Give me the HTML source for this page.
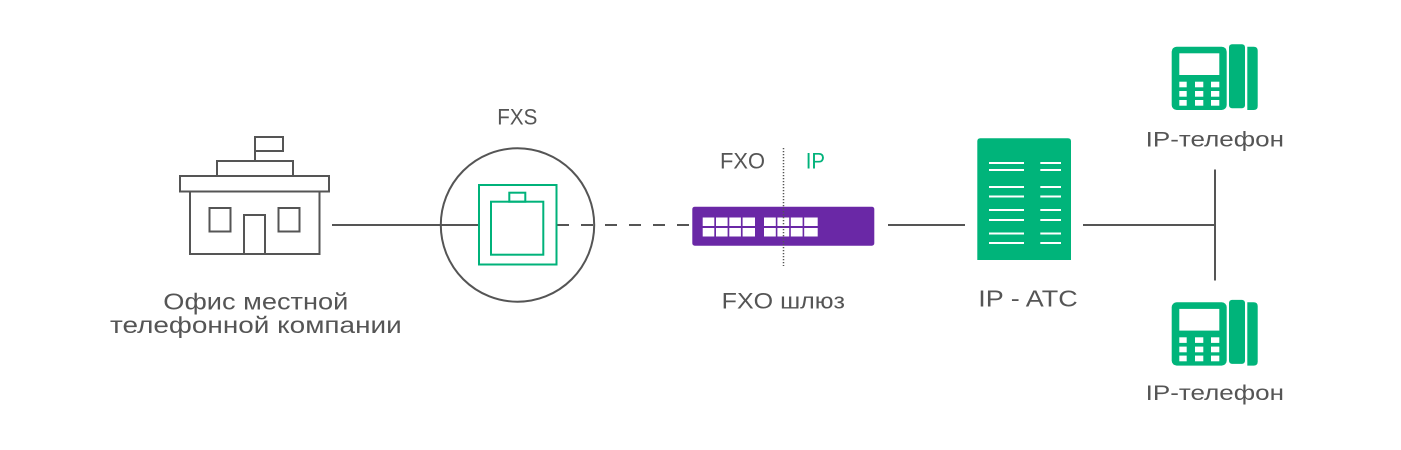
<!DOCTYPE html>
<html><head><meta charset="utf-8"><style>
html,body{margin:0;padding:0;background:#fff;}
svg{display:block;}
text{font-family:"Liberation Sans","DejaVu Sans",sans-serif;fill:#555;}
</style></head><body>
<svg width="1401" height="450" viewBox="0 0 1401 450" xmlns="http://www.w3.org/2000/svg">
<rect width="1401" height="450" fill="#fff"/>
<!-- building -->
<g fill="none" stroke="#555" stroke-width="2">
<rect x="255" y="137" width="28" height="14"/>
<line x1="255" y1="151" x2="255" y2="161"/>
<rect x="217" y="161" width="76" height="15"/>
<rect x="180" y="176" width="149" height="15.5"/>
<polyline points="190,191.5 190,254 319.5,254 319.5,191.5"/>
<rect x="209.5" y="208" width="21" height="23.5"/>
<rect x="278.5" y="208" width="21" height="23.5"/>
<polyline points="244,254 244,215 265,215 265,254"/>
</g>
<!-- lines -->
<g stroke="#555" stroke-width="2" fill="none">
<line x1="332" y1="225" x2="479" y2="225"/>
<circle cx="517.5" cy="225" r="76.7"/>
<line x1="557" y1="225" x2="692" y2="225" stroke-dasharray="12 12"/>
<line x1="888" y1="225" x2="965" y2="225"/>
<line x1="1083" y1="225" x2="1215" y2="225"/>
<line x1="1215" y1="169.5" x2="1215" y2="280.5"/>
</g>
<!-- jack -->
<g fill="none" stroke="#00b27a" stroke-width="2">
<rect x="479" y="185" width="77.5" height="79.5"/>
<rect x="491" y="201.7" width="52.3" height="53"/>
<rect x="509.3" y="192.7" width="16" height="9"/>
</g>
<!-- switch -->
<rect x="692.3" y="206.7" width="182" height="39" rx="2.5" fill="#6a28a6"/>
<g fill="#fff">
<rect x="702.7" y="217.5" width="11.6" height="8.5"/><rect x="716" y="217.5" width="11.6" height="8.5"/><rect x="729.3" y="217.5" width="11.6" height="8.5"/><rect x="742.6" y="217.5" width="12.4" height="8.5"/>
<rect x="702.7" y="228" width="11.6" height="8.5"/><rect x="716" y="228" width="11.6" height="8.5"/><rect x="729.3" y="228" width="11.6" height="8.5"/><rect x="742.6" y="228" width="12.4" height="8.5"/>
<rect x="764" y="217.5" width="11.8" height="8.5"/><rect x="777.4" y="217.5" width="11.8" height="8.5"/><rect x="790.8" y="217.5" width="11.8" height="8.5"/><rect x="804.2" y="217.5" width="13.5" height="8.5"/>
<rect x="764" y="228" width="11.8" height="8.5"/><rect x="777.4" y="228" width="11.8" height="8.5"/><rect x="790.8" y="228" width="11.8" height="8.5"/><rect x="804.2" y="228" width="13.5" height="8.5"/>
</g>
<line x1="783.5" y1="148" x2="783.5" y2="266" stroke="#555" stroke-width="1.5" stroke-dasharray="1.2 1.8"/>
<!-- PBX -->
<path d="M977.3,260 V141.3 Q977.3,138.3 980.3,138.3 H1068 Q1071,138.3 1071,141.3 V260 Z" fill="#00b47a"/>
<g stroke="#fff" stroke-width="2">
<line x1="989" y1="163" x2="1024" y2="163"/><line x1="1040.3" y1="163" x2="1061" y2="163"/>
<line x1="989" y1="170" x2="1024" y2="170"/><line x1="1040.3" y1="170" x2="1061" y2="170"/>
<line x1="989" y1="187" x2="1024" y2="187"/><line x1="1040.3" y1="187" x2="1061" y2="187"/>
<line x1="989" y1="196.5" x2="1024" y2="196.5"/><line x1="1040.3" y1="196.5" x2="1061" y2="196.5"/>
<line x1="989" y1="210" x2="1024" y2="210"/><line x1="1040.3" y1="210" x2="1061" y2="210"/>
<line x1="989" y1="220" x2="1024" y2="220"/><line x1="1040.3" y1="220" x2="1061" y2="220"/>
<line x1="989" y1="233.5" x2="1024" y2="233.5"/><line x1="1040.3" y1="233.5" x2="1061" y2="233.5"/>
<line x1="989" y1="243" x2="1024" y2="243"/><line x1="1040.3" y1="243" x2="1061" y2="243"/>
</g>
<!-- phones -->
<g>
<rect x="1171.7" y="46.7" width="55" height="63.3" rx="5" fill="#00b47a"/>
<rect x="1179.3" y="53.3" width="40" height="21.7" fill="#fff"/>
<g fill="#fff">
<rect x="1179.3" y="81.7" width="7.4" height="5.6"/><rect x="1195" y="81.7" width="8.3" height="5.6"/><rect x="1211" y="81.7" width="8.3" height="5.6"/>
<rect x="1179.3" y="91" width="7.4" height="5.7"/><rect x="1195" y="91" width="8.3" height="5.7"/><rect x="1211" y="91" width="8.3" height="5.7"/>
<rect x="1179.3" y="100" width="7.4" height="5.7"/><rect x="1195" y="100" width="8.3" height="5.7"/><rect x="1211" y="100" width="8.3" height="5.7"/>
</g>
<rect x="1229" y="44.3" width="16" height="64" rx="3" fill="#00b47a"/>
<path d="M1247.3,46.7 H1253.7 Q1257.7,46.7 1257.7,50.7 V106 Q1257.7,110 1253.7,110 H1247.3 Z" fill="#00b47a"/>
</g>
<g transform="translate(0,255.6)">
<rect x="1171.7" y="46.7" width="55" height="63.3" rx="5" fill="#00b47a"/>
<rect x="1179.3" y="53.3" width="40" height="21.7" fill="#fff"/>
<g fill="#fff">
<rect x="1179.3" y="81.7" width="7.4" height="5.6"/><rect x="1195" y="81.7" width="8.3" height="5.6"/><rect x="1211" y="81.7" width="8.3" height="5.6"/>
<rect x="1179.3" y="91" width="7.4" height="5.7"/><rect x="1195" y="91" width="8.3" height="5.7"/><rect x="1211" y="91" width="8.3" height="5.7"/>
<rect x="1179.3" y="100" width="7.4" height="5.7"/><rect x="1195" y="100" width="8.3" height="5.7"/><rect x="1211" y="100" width="8.3" height="5.7"/>
</g>
<rect x="1229" y="44.3" width="16" height="64" rx="3" fill="#00b47a"/>
<path d="M1247.3,46.7 H1253.7 Q1257.7,46.7 1257.7,50.7 V106 Q1257.7,110 1253.7,110 H1247.3 Z" fill="#00b47a"/>
</g>
<!-- labels -->
<g font-size="22.5">
<text x="497.3" y="124.3" textLength="40" lengthAdjust="spacingAndGlyphs">FXS</text>
<text x="720" y="168.3" textLength="45" lengthAdjust="spacingAndGlyphs">FXO</text>
<text x="805.7" y="168.3" textLength="19.3" lengthAdjust="spacingAndGlyphs" style="fill:#00b27a">IP</text>
<text x="163.3" y="309.3" font-size="23" textLength="185" lengthAdjust="spacingAndGlyphs">Офис местной</text>
<text x="110" y="333" font-size="23" textLength="291.7" lengthAdjust="spacingAndGlyphs">телефонной компании</text>
<text x="721.7" y="308.3" textLength="123.3" lengthAdjust="spacingAndGlyphs">FXO шлюз</text>
<text x="978.3" y="306.7" font-size="23" textLength="99.4" lengthAdjust="spacingAndGlyphs">IP - ATC</text>
<text x="1145.7" y="146.7" font-size="21.5" textLength="138.3" lengthAdjust="spacingAndGlyphs">IP-телефон</text>
<text x="1145.7" y="400" font-size="21.5" textLength="138.3" lengthAdjust="spacingAndGlyphs">IP-телефон</text>
</g>
</svg>
</body></html>
